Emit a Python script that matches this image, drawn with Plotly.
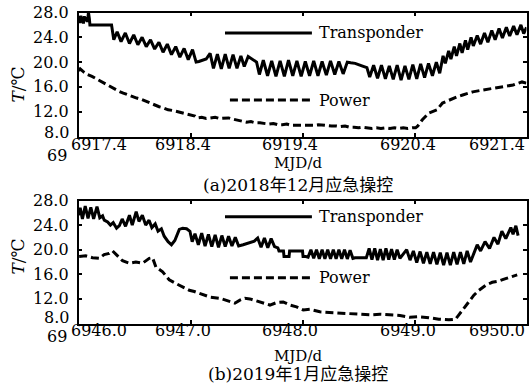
import plotly.graph_objects as go

# ---------------- data ----------------
# (a) Dec 2018
t1_day = [6917.400, 6917.407, 6917.414, 6917.421, 6917.428, 6917.436, 6917.444, 6917.452,
          6917.460, 6917.470, 6917.480, 6917.489, 6917.497, 6917.502, 6917.695,
          6917.700, 6917.715, 6917.745, 6917.780, 6917.818, 6917.855, 6917.893, 6917.930,
          6917.968, 6918.005, 6918.043, 6918.080, 6918.118, 6918.155, 6918.193, 6918.230,
          6918.268, 6918.305, 6918.343, 6918.380, 6918.418, 6918.450, 6918.475, 6918.540,
          6918.575, 6918.605, 6918.640, 6918.675, 6918.710, 6918.745, 6918.780, 6918.815,
          6918.850, 6918.880, 6918.915, 6918.950, 6918.990,
          6919.015, 6919.050, 6919.088, 6919.125, 6919.163, 6919.200, 6919.238, 6919.275,
          6919.313, 6919.350, 6919.388, 6919.425, 6919.463, 6919.500, 6919.538, 6919.575,
          6919.613, 6919.650, 6919.688, 6919.725, 6919.763, 6919.800, 6919.830, 6919.870,
          6919.930, 6919.975,
          6920.000, 6920.035, 6920.070, 6920.105, 6920.140, 6920.175, 6920.210, 6920.245,
          6920.280, 6920.315, 6920.350, 6920.385, 6920.420, 6920.455, 6920.490, 6920.525,
          6920.560, 6920.595, 6920.625,
          6920.655, 6920.675, 6920.705, 6920.725, 6920.755, 6920.775, 6920.805, 6920.825,
          6920.855, 6920.875, 6920.905, 6920.925,
          6920.960, 6920.990, 6921.025, 6921.055, 6921.090, 6921.120, 6921.155, 6921.185,
          6921.220, 6921.250, 6921.285, 6921.315, 6921.350, 6921.375, 6921.400]
t1_temp = [26.6, 27.4, 26.3, 27.5, 26.4, 27.3, 26.2, 27.4,
           26.6, 27.2, 26.5, 28.0, 27.0, 26.0, 26.0,
           25.3, 23.6, 24.9, 23.3, 24.7, 23.0, 24.4, 22.8,
           24.0, 22.5, 23.6, 22.1, 23.2, 21.6, 22.9, 21.2,
           22.5, 20.8, 22.2, 20.4, 22.0, 20.0, 20.1, 20.5,
           21.4, 19.0, 21.3, 18.9, 21.3, 19.0, 21.2, 19.0,
           21.0, 19.3, 20.9, 20.5, 20.0,
           18.0, 20.3, 17.8, 20.2, 17.7, 20.2, 17.7, 20.3,
           17.8, 20.2, 17.7, 20.1, 17.8, 20.2, 17.8, 20.1,
           17.9, 20.2, 18.0, 20.1, 18.1, 20.0, 19.9, 19.8,
           19.4, 19.1,
           17.6, 19.5, 17.4, 19.5, 17.3, 19.4, 17.2, 19.5,
           17.1, 19.4, 17.2, 19.6, 17.3, 19.7, 17.5, 19.8,
           17.8, 20.0, 18.2,
           21.0, 19.8, 21.8, 20.5, 22.5, 21.0, 23.0, 21.5,
           23.5, 22.0, 24.0, 22.6,
           24.3, 22.9, 24.7, 23.2, 25.1, 23.6, 25.4, 23.9,
           25.6, 24.2, 25.8, 24.4, 26.0, 24.6, 25.6]

p1_day = [6917.400, 6917.415, 6917.440, 6917.480, 6917.520, 6917.560, 6917.600, 6917.640,
          6917.680, 6917.720, 6917.760, 6917.800, 6917.840, 6917.880, 6917.920, 6917.960,
          6918.000, 6918.040, 6918.080, 6918.120, 6918.160, 6918.200, 6918.240, 6918.280,
          6918.320, 6918.360, 6918.400, 6918.440, 6918.460, 6918.500, 6918.540, 6918.580,
          6918.620, 6918.660, 6918.700, 6918.740, 6918.780, 6918.820, 6918.860, 6918.900,
          6918.940, 6918.980, 6919.020, 6919.060, 6919.100, 6919.140, 6919.180, 6919.220,
          6919.260, 6919.300, 6919.340, 6919.380, 6919.420, 6919.460, 6919.500, 6919.540,
          6919.580, 6919.620, 6919.660, 6919.700, 6919.740, 6919.780, 6919.820, 6919.860,
          6919.900, 6919.940, 6919.980, 6920.020, 6920.060, 6920.100, 6920.140, 6920.180,
          6920.220, 6920.260, 6920.300, 6920.340, 6920.380, 6920.410, 6920.430, 6920.470,
          6920.530, 6920.600, 6920.650, 6920.710, 6920.780, 6920.830, 6920.920, 6921.010,
          6921.100, 6921.190, 6921.280, 6921.360, 6921.400]
p1_temp = [18.6, 18.9, 18.5, 18.0, 17.7, 17.3, 16.8, 16.4,
           16.0, 15.6, 15.3, 15.0, 14.7, 14.4, 14.2, 14.0,
           13.7, 13.3, 13.0, 12.8, 12.6, 12.3, 12.2, 12.0,
           11.8, 11.6, 11.5, 11.3, 11.0, 11.1, 10.9, 11.0,
           11.1, 10.9, 11.0, 11.0, 10.8, 10.6, 10.5, 10.3,
           10.4, 10.2, 10.2, 10.1, 10.0, 10.1, 9.9, 9.9,
           10.0, 9.8, 9.8, 9.7, 9.8, 9.7, 9.8, 9.9,
           9.8, 9.8, 9.7, 9.7, 9.6, 9.7, 9.5, 9.5,
           9.4, 9.5, 9.4, 9.3, 9.4, 9.3, 9.4, 9.3,
           9.4, 9.3, 9.4, 9.3, 9.4, 9.4, 9.7, 10.7,
           11.8, 12.3, 13.4, 13.9, 14.4, 14.7, 15.2, 15.5,
           15.8, 16.0, 16.3, 16.8, 16.6]

# (b) Jan 2019
t2_day = [6946.000, 6946.015, 6946.035, 6946.060, 6946.085, 6946.110, 6946.135, 6946.165,
          6946.190, 6946.215, 6946.230, 6946.260, 6946.285, 6946.310, 6946.340, 6946.365,
          6946.390, 6946.420, 6946.455, 6946.480, 6946.515, 6946.540, 6946.570, 6946.600,
          6946.630, 6946.655, 6946.685, 6946.710, 6946.740, 6946.765, 6946.800, 6946.830,
          6946.860, 6946.900, 6946.930, 6946.965, 6946.995, 6947.015,
          6947.040, 6947.070, 6947.100, 6947.130, 6947.160, 6947.190, 6947.220, 6947.250,
          6947.280, 6947.310, 6947.340, 6947.370, 6947.400, 6947.430, 6947.470, 6947.520,
          6947.570, 6947.600, 6947.630, 6947.660, 6947.690, 6947.720, 6947.750, 6947.780,
          6947.790, 6947.830, 6947.835, 6947.880, 6947.885, 6948.000, 6948.005, 6948.030,
          6948.050, 6948.075, 6948.100, 6948.125, 6948.150, 6948.175, 6948.200, 6948.225,
          6948.250, 6948.275, 6948.300, 6948.325, 6948.350, 6948.375, 6948.400, 6948.425,
          6948.450, 6948.470, 6948.570,
          6948.595, 6948.620, 6948.645, 6948.670, 6948.695, 6948.720, 6948.745, 6948.770,
          6948.795, 6948.820, 6948.845, 6948.870, 6948.930,
          6948.960, 6948.990, 6949.020, 6949.050, 6949.080, 6949.110, 6949.140, 6949.170,
          6949.200, 6949.230, 6949.260, 6949.290, 6949.320, 6949.350, 6949.380, 6949.410,
          6949.440, 6949.470, 6949.500, 6949.530, 6949.560, 6949.590, 6949.630, 6949.670,
          6949.710, 6949.745, 6949.780, 6949.815, 6949.860, 6949.880, 6949.905, 6949.925]
t2_temp = [25.6, 26.8, 25.0, 27.1, 25.1, 26.9, 25.0, 27.0,
           25.2, 25.5, 24.8, 24.5, 24.0, 24.4, 23.5, 23.9,
           25.0, 23.8, 25.6, 24.0, 26.2, 24.6, 25.6, 24.0,
           24.8, 23.6, 24.2, 23.0, 23.4, 22.2, 21.3, 20.8,
           21.5, 23.3, 23.5, 23.4, 23.0, 21.3,
           22.6, 20.8, 22.7, 20.6, 22.5, 20.5, 22.4, 20.4,
           22.3, 20.5, 22.2, 20.6, 22.0, 20.6, 20.8, 21.1,
           21.4, 21.9, 20.4, 21.9, 20.3, 21.8, 20.5, 20.3,
           19.8, 19.8, 18.9, 18.9, 19.8, 19.8, 18.9, 18.9,
           18.8, 20.0, 18.6, 20.0, 18.5, 20.0, 18.5, 20.0,
           18.5, 20.0, 18.5, 20.0, 18.5, 20.0, 18.5, 19.9,
           18.6, 18.7, 18.7,
           20.2, 18.4, 20.2, 18.3, 20.1, 18.3, 20.2, 18.4,
           20.1, 18.4, 20.0, 18.6, 20.0,
           18.3, 19.8, 17.9, 19.7, 17.8, 19.6, 17.7, 19.6,
           17.6, 19.5, 17.5, 19.5, 17.5, 19.6, 17.6, 19.6,
           17.7, 19.8, 18.0, 19.4, 20.8, 19.8, 21.3, 20.2,
           22.0, 20.9, 23.0, 21.8, 23.6, 22.5, 23.9, 22.3]

p2_day = [6946.006, 6946.065, 6946.125, 6946.185, 6946.229, 6946.274, 6946.304, 6946.349,
          6946.393, 6946.453, 6946.512, 6946.572, 6946.632, 6946.661, 6946.691, 6946.751,
          6946.810, 6946.870, 6946.930, 6946.989, 6947.034, 6947.083, 6947.173, 6947.262,
          6947.352, 6947.396, 6947.441, 6947.486, 6947.530, 6947.590, 6947.650, 6947.709,
          6947.769, 6947.828, 6947.888, 6947.947, 6948.007, 6948.066, 6948.155, 6948.244,
          6948.334, 6948.423, 6948.512, 6948.602, 6948.691, 6948.781, 6948.870, 6948.959,
          6949.038, 6949.128, 6949.217, 6949.307, 6949.366, 6949.396, 6949.441, 6949.485,
          6949.530, 6949.575, 6949.634, 6949.694, 6949.753, 6949.813, 6949.873, 6949.917]
p2_temp = [18.9, 19.0, 18.7, 18.6, 19.2, 19.4, 19.8, 18.9,
           18.2, 17.8, 18.0, 17.8, 18.6, 18.7, 17.2, 16.4,
           15.1, 14.5, 14.0, 13.4, 13.2, 12.9, 12.3, 12.1,
           11.5, 11.3, 11.8, 12.1, 12.0, 11.7, 11.3, 11.0,
           11.4, 11.5, 11.0, 10.7, 10.2, 10.3, 9.9, 9.8,
           9.65, 9.5, 9.5, 9.4, 9.5, 9.4, 9.3, 9.0,
           9.1, 8.95, 8.7, 8.6, 8.7, 9.4, 10.5, 11.5,
           12.6, 13.4, 14.2, 14.7, 14.9, 15.3, 15.6, 15.9]

x_ticks_a = [6917.4, 6918.4, 6919.4, 6920.4, 6921.4]
x_ticks_b = [6946.0, 6947.0, 6948.0, 6949.0, 6950.0]
x_labels_a = ["6917.4", "6918.4", "6919.4", "6920.4", "6921.4"]
x_labels_b = ["6946.0", "6947.0", "6948.0", "6949.0", "6950.0"]
y_ticks = [8, 12, 16, 20, 24, 28]
y_labels = ["8.0", "12.0", "16.0", "20.0", "24.0", "28.0"]
series_names = ["Transponder", "Power"]
captions = ["(a)2018年12月应急操控", "(b)2019年1月应急操控"]

# ---------------- style ----------------
W, H = 529, 383
SERIF = "DejaVu Serif, Noto Sans CJK SC"
DASH = "8px,4px"
LW = 3


def px(xp):
    return xp / W


def py(yp):
    return 1 - yp / H


fig = go.Figure()
fig.add_trace(go.Scatter(x=t1_day, y=t1_temp, mode="lines", name=series_names[0],
                         line=dict(color="black", width=LW), xaxis="x", yaxis="y",
                         showlegend=False))
fig.add_trace(go.Scatter(x=p1_day, y=p1_temp, mode="lines", name=series_names[1],
                         line=dict(color="black", width=LW, dash=DASH), xaxis="x", yaxis="y",
                         showlegend=False))
fig.add_trace(go.Scatter(x=t2_day, y=t2_temp, mode="lines", name=series_names[0],
                         line=dict(color="black", width=LW), xaxis="x2", yaxis="y2",
                         showlegend=False))
fig.add_trace(go.Scatter(x=p2_day, y=p2_temp, mode="lines", name=series_names[1],
                         line=dict(color="black", width=LW, dash=DASH), xaxis="x2", yaxis="y2",
                         showlegend=False))

xdom = [px(78.5), px(526.5)]
ydom_a = [py(136.5), py(12.5)]
ydom_b = [py(323.5), py(200.5)]

common_x = dict(showline=True, linecolor="black", linewidth=1.5, mirror="ticks",
                ticks="inside", ticklen=4, tickwidth=1.5, tickcolor="black",
                showticklabels=False, showgrid=False, zeroline=False, automargin=False)
common_y = dict(showline=True, linecolor="black", linewidth=1.5, mirror="ticks",
                ticks="inside", ticklen=4, tickwidth=1.5, tickcolor="black",
                tickvals=y_ticks, range=[8, 28], showticklabels=False,
                showgrid=False, zeroline=False, automargin=False)

fig.update_layout(
    width=W, height=H,
    margin=dict(l=0, r=0, t=0, b=0),
    paper_bgcolor="white", plot_bgcolor="white",
    template="none",
    xaxis=dict(common_x, domain=xdom, range=[x_ticks_a[0], x_ticks_a[-1]],
               tickvals=x_ticks_a, anchor="y"),
    yaxis=dict(common_y, domain=ydom_a, anchor="x"),
    xaxis2=dict(common_x, domain=xdom, range=[x_ticks_b[0], x_ticks_b[-1]],
                tickvals=x_ticks_b, anchor="y2"),
    yaxis2=dict(common_y, domain=ydom_b, anchor="x2"),
)

annots = []
font16 = dict(family=SERIF, size=16, color="black")
font15 = dict(family=SERIF, size=15, color="black")

# y tick labels (lowest one raised slightly, as in the original)
y_dy = [4, 0, 0, 0, 0, 0]
for ax, bottom_extra in [("y", 0), ("y2", 2)]:
    for v, lab, dy in zip(y_ticks, y_labels, y_dy):
        annots.append(dict(x=px(71), xref="paper", y=v, yref=ax, text=lab,
                           showarrow=False, xanchor="right", yanchor="middle",
                           yshift=dy + (bottom_extra if dy else 0), font=font16))

# x tick labels
label_dx = [20, -8, -13, -7, -30]
for xs, labs, ypos, ax in [(x_ticks_a, x_labels_a, 144.5, "x"), (x_ticks_b, x_labels_b, 330.5, "x2")]:
    for v, lab, dx in zip(xs, labs, label_dx):
        annots.append(dict(x=v, xref=ax, y=py(ypos), yref="paper", text=lab,
                           showarrow=False, xanchor="center", yanchor="middle",
                           xshift=dx, font=font16))

for ypos in [155, 336]:
    annots.append(dict(x=px(57), y=py(ypos), xref="paper", yref="paper", text="69",
                       showarrow=False, xanchor="center", yanchor="middle", font=font16))

for ypos in [163, 355.5]:
    annots.append(dict(x=px(298), y=py(ypos), xref="paper", yref="paper", text="MJD/d",
                       showarrow=False, xanchor="center", yanchor="middle", font=font15))

for cap, ypos in zip(captions, [184.5, 373.5]):
    annots.append(dict(x=px(298), y=py(ypos), xref="paper", yref="paper", text=cap,
                       showarrow=False, xanchor="center", yanchor="middle",
                       font=dict(family=SERIF, size=17, color="black")))

for ypos in [85, 257]:
    annots.append(dict(x=px(17.5), y=py(ypos), xref="paper", yref="paper",
                       text="<i>T</i>/℃", textangle=-90,
                       showarrow=False, xanchor="center", yanchor="middle",
                       font=dict(family=SERIF, size=17, color="black")))

# legends drawn inside each panel
shapes = []
for xa, ya, y_solid, y_dash in [("x", "y", 0.835, 0.294), ("x2", "y2", 0.868, 0.372)]:
    shapes.append(dict(type="line", xref=f"{xa} domain", yref=f"{ya} domain",
                       x0=0.327, x1=0.521, y0=y_solid, y1=y_solid,
                       line=dict(color="black", width=LW)))
    shapes.append(dict(type="line", xref=f"{xa} domain", yref=f"{ya} domain",
                       x0=0.338, x1=0.523, y0=y_dash, y1=y_dash,
                       line=dict(color="black", width=LW, dash=DASH)))
    annots.append(dict(x=0.532, y=y_solid, xref=f"{xa} domain", yref=f"{ya} domain",
                       text=series_names[0], showarrow=False, xanchor="left",
                       yanchor="middle", font=font16))
    annots.append(dict(x=0.532, y=y_dash, xref=f"{xa} domain", yref=f"{ya} domain",
                       text=series_names[1], showarrow=False, xanchor="left",
                       yanchor="middle", font=font16))

fig.update_layout(annotations=annots, shapes=shapes)
fig.write_html("out.html", config={"displayModeBar": False},
               post_script="document.body.style.margin='0';document.body.style.overflow='hidden';")
